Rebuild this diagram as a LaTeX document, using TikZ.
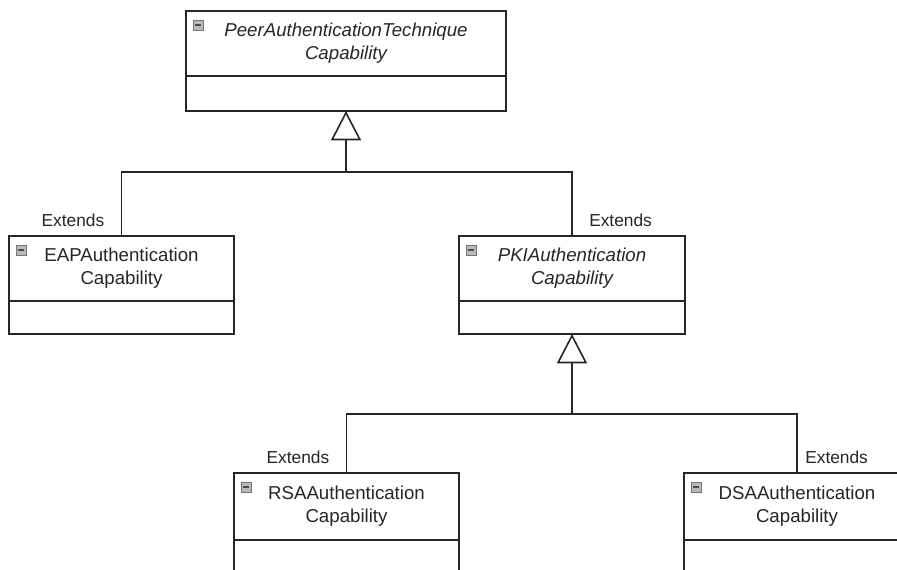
\documentclass[tikz,border=0pt]{standalone}
\usepackage{fontspec}
\setmainfont{Liberation Sans}
\usetikzlibrary{arrows.meta}
\def\px{0.75pt}
\tikzset{
	cls/.style={draw=black!85,line width=1.2pt,anchor=north west,align=center,inner sep=1pt,outer sep=0pt,
		minimum height=65*\px,text=black!85,font=\fontsize{14}{17.25}\selectfont},
	attr/.style={draw=black!85,line width=1.2pt,anchor=north,outer sep=0pt,minimum height=33*\px},
	icon/.style={draw=gray!90!black,fill=gray!55,minimum size=10*\px,inner sep=0pt,line width=0.5pt,
		path picture={\draw[black!70,line width=1.6*\px] ([xshift=2*\px]path picture bounding box.west) -- ([xshift=-2*\px]path picture bounding box.east);}},
	ext/.style={font=\fontsize{13}{15}\selectfont,text=black!85,inner sep=0pt},
	link/.style={draw=black!85,line width=1.2pt},
	gen/.style={link,-{Triangle[open,length=22pt,width=22.5pt]}}
}
\begin{document}
\begin{tikzpicture}[x=0.75pt,y=-0.75pt]
	\useasboundingbox[fill=white] (0,0) rectangle (897,570);
	\clip (0,0) rectangle (897,570);
	% classes
	\node[cls,minimum width=320*\px,font=\fontsize{14}{17.25}\selectfont\itshape] (peer) at (186,11) {PeerAuthenticationTechnique\\Capability};
	\node[attr,minimum width=320*\px,minimum height=35*\px] (peerA) at (peer.south) {};
	\node[cls,minimum width=225*\px] (eap) at (9,236) {EAPAuthentication\\Capability};
	\node[attr,minimum width=225*\px] (eapA) at (eap.south) {};
	\node[cls,minimum width=226*\px,font=\fontsize{14}{17.25}\selectfont\itshape] (pki) at (459,236) {PKIAuthentication\\Capability};
	\node[attr,minimum width=226*\px] (pkiA) at (pki.south) {};
	\node[cls,minimum width=225*\px,minimum height=67*\px] (rsa) at (234,473) {RSAAuthentication\\Capability};
	\node[attr,minimum width=225*\px,minimum height=60*\px] (rsaA) at (rsa.south) {};
	\node[cls,minimum width=226*\px,minimum height=67*\px] (dsa) at (684,473) {DSAAuthentication\\Capability};
	\node[attr,minimum width=226*\px,minimum height=60*\px] (dsaA) at (dsa.south) {};
	\foreach \c in {peer,eap,pki,rsa,dsa} \node[icon] (\c-i) at ([shift={(12,14)}]\c.north west) {};
	% generalizations
	\coordinate (j1) at ([shift={(0,61)}]peerA.south);
	\coordinate (j2) at ([shift={(0,80)}]pkiA.south);
	\draw[gen] (j1) -- (peerA.south);
	\draw[link] (eap.north) |- (j1) -| (pki.north);
	\draw[gen] (j2) -- (pkiA.south);
	\draw[link] (rsa.north) |- (j2) -| (dsa.north);
	\foreach \c/\a/\d in {eap/east/-17,pki/west/17,rsa/east/-17,dsa/west/8}
		\node[ext,anchor=\a] (\c-ext) at ([shift={(\d,-16)}]\c.north) {Extends};
\end{tikzpicture}
\end{document}
